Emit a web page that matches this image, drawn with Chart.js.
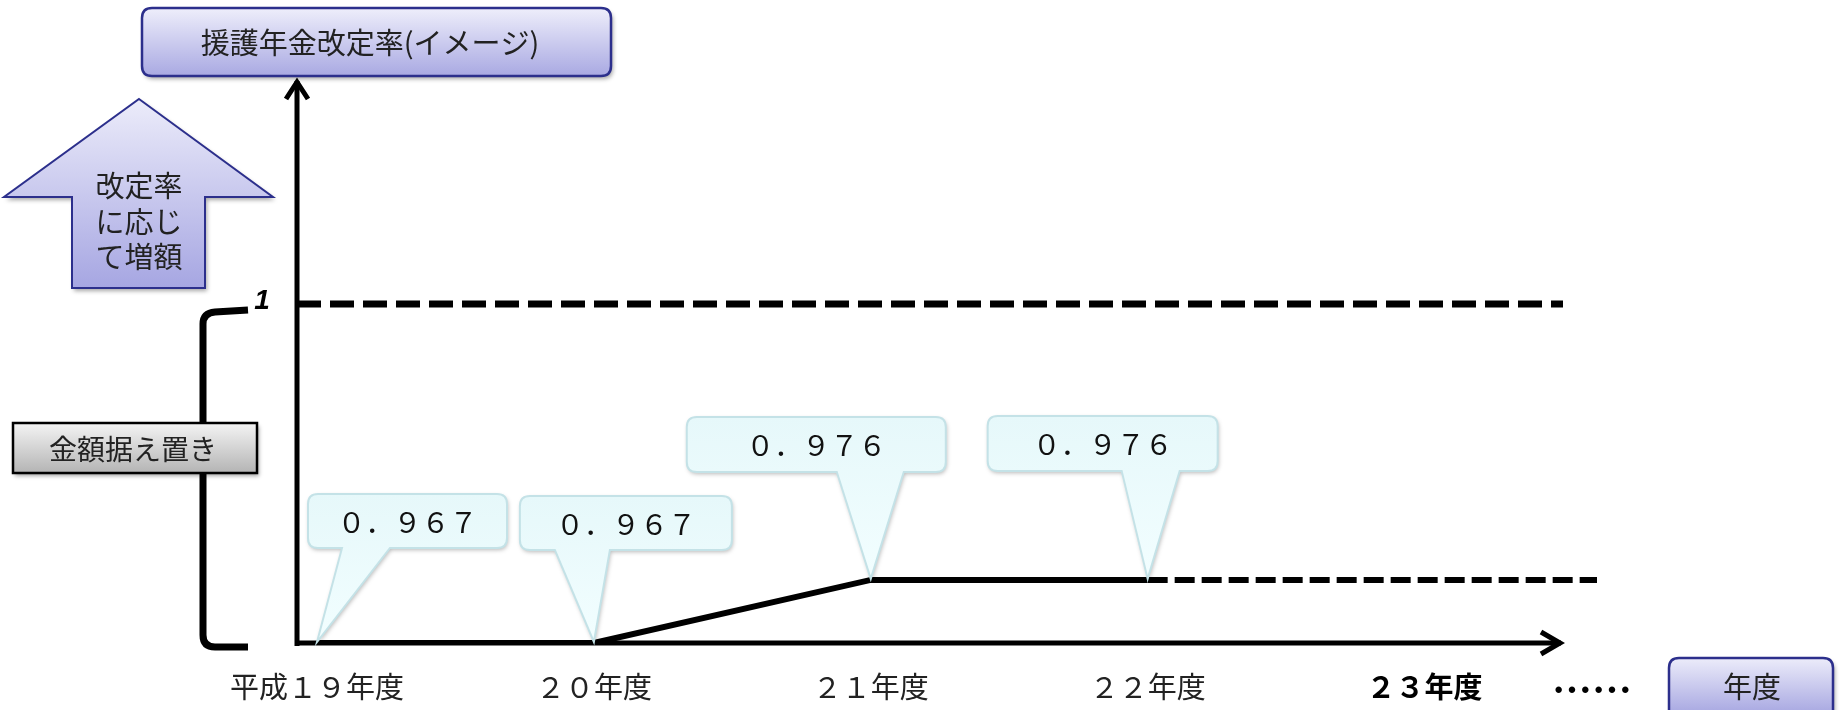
<!DOCTYPE html>
<html lang="ja">
<head>
<meta charset="utf-8">
<title>援護年金改定率(イメージ)</title>
<script src="https://cdn.jsdelivr.net/npm/chart.js@4.4.1/dist/chart.umd.min.js"></script>
<style>
  html, body { margin: 0; padding: 0; background: #fff; }
</style>
</head>
<body>
<canvas id="chart" width="1841" height="710"></canvas>
<script>
// values
const years = [19, 20, 21, 22, 23]
const yearLabels = ['平成１９年度', '２０年度', '２１年度', '２２年度', '２３年度']
const rateYears = [19, 20, 21, 22]
const rates = [0.967, 0.967, 0.976, 0.976]
const rateLabels = ['０．９６７', '０．９６７', '０．９７６', '０．９７６']
const baseRate = 1
const baseLabel = '1'

const titleText = '援護年金改定率(イメージ)'
const upArrowLines = ['改定率', 'に応じ', 'て増額']
const freezeText = '金額据え置き'
const xTitleText = '年度'
const moreText = '……'

// callout shapes, relative to the point they point at
const callouts = [
    { left: -9, width: 199, top: -149, height: 54, tail: [25, 73] },
    { left: -74, width: 212, top: -147, height: 54, tail: [-39, 16] },
    { left: -184, width: 259, top: -163, height: 55, tail: [-34, 33] },
    { left: -160, width: 230, top: -164, height: 55, tail: [-26, 32] },
]

const JP = '"Noto Sans CJK JP", sans-serif'
const NAVY = '#2c2f8c'

function roundRect(ctx, x, y, w, h, r) {
    ctx.beginPath()
    ctx.moveTo(x + r, y)
    ctx.lineTo(x + w - r, y)
    ctx.quadraticCurveTo(x + w, y, x + w, y + r)
    ctx.lineTo(x + w, y + h - r)
    ctx.quadraticCurveTo(x + w, y + h, x + w - r, y + h)
    ctx.lineTo(x + r, y + h)
    ctx.quadraticCurveTo(x, y + h, x, y + h - r)
    ctx.lineTo(x, y + r)
    ctx.quadraticCurveTo(x, y, x + r, y)
    ctx.closePath()
}

function vGrad(ctx, y0, y1, c0, c1) {
    const g = ctx.createLinearGradient(0, y0, 0, y1)
    g.addColorStop(0, c0)
    g.addColorStop(1, c1)
    return g
}

function shadow(ctx, on) {
    ctx.shadowColor = on ? 'rgba(0,0,0,0.35)' : 'transparent'
    ctx.shadowBlur = on ? 4 : 0
    ctx.shadowOffsetX = on ? 2 : 0
    ctx.shadowOffsetY = on ? 3 : 0
}

const decorations = {
    id: 'decorations',
    beforeDatasetsDraw(chart) {
        const { ctx, chartArea, scales } = chart
        const y1 = scales.y1
        const axisX = chartArea.left - 20
        const baseY = chartArea.bottom
        const refY = y1.getPixelForValue(baseRate)
        const axisEnd = chartArea.right - 2

        ctx.save()
        ctx.textAlign = 'center'
        ctx.textBaseline = 'middle'

        // title box
        shadow(ctx, true)
        roundRect(ctx, 142, 8, 469, 68, 10)
        ctx.fillStyle = vGrad(ctx, 8, 76, '#eeeefb', '#a9a9e2')
        ctx.fill()
        shadow(ctx, false)
        ctx.lineWidth = 2.5
        ctx.strokeStyle = NAVY
        ctx.stroke()
        ctx.fillStyle = '#222'
        ctx.font = '29px ' + JP
        ctx.fillText(titleText, 370, 43)

        // up arrow
        ctx.beginPath()
        ctx.moveTo(139, 99)
        ctx.lineTo(273, 197)
        ctx.lineTo(205, 197)
        ctx.lineTo(205, 288)
        ctx.lineTo(72, 288)
        ctx.lineTo(72, 197)
        ctx.lineTo(4, 197)
        ctx.closePath()
        shadow(ctx, true)
        ctx.fillStyle = vGrad(ctx, 99, 288, '#ececfa', '#a6a6e2')
        ctx.fill()
        shadow(ctx, false)
        ctx.lineWidth = 2
        ctx.strokeStyle = NAVY
        ctx.stroke()
        ctx.fillStyle = '#222'
        ctx.font = '29px ' + JP
        upArrowLines.forEach((t, i) => ctx.fillText(t, 139, 186 + i * 35.5))

        // bracket for the frozen range
        const bx = axisX - 94
        const bEnd = axisX - 49
        const bTop = refY + 8
        const bBot = baseY + 4
        ctx.lineWidth = 7
        ctx.strokeStyle = '#000'
        ctx.beginPath()
        ctx.moveTo(bEnd, bTop - 2)
        ctx.lineTo(bx + 12, bTop)
        ctx.quadraticCurveTo(bx, bTop + 1, bx, bTop + 12)
        ctx.lineTo(bx, bBot - 12)
        ctx.quadraticCurveTo(bx, bBot, bx + 12, bBot)
        ctx.lineTo(bEnd, bBot)
        ctx.stroke()

        // 金額据え置き box
        shadow(ctx, true)
        ctx.fillStyle = vGrad(ctx, 423, 473, '#f4f4f4', '#b4b4b4')
        ctx.fillRect(13, 423, 244, 50)
        shadow(ctx, false)
        ctx.lineWidth = 2.5
        ctx.strokeRect(13, 423, 244, 50)
        ctx.fillStyle = '#222'
        ctx.font = '28px ' + JP
        ctx.fillText(freezeText, 133, 449)

        // "1" tick
        ctx.fillStyle = '#000'
        ctx.font = 'italic bold 28px "Liberation Sans", sans-serif'
        ctx.fillText(baseLabel, axisX - 35, refY - 3)

        // reference line at 1
        ctx.lineWidth = 7
        ctx.setLineDash([24, 9])
        ctx.beginPath()
        ctx.moveTo(axisX, refY)
        ctx.lineTo(axisEnd + 2, refY)
        ctx.stroke()
        ctx.setLineDash([])

        // axes with arrow heads
        ctx.lineWidth = 5
        ctx.lineCap = 'butt'
        ctx.beginPath()
        ctx.moveTo(axisX, baseY + 3)
        ctx.lineTo(axisX, chartArea.top - 1)
        ctx.moveTo(axisX - 2, baseY)
        ctx.lineTo(axisEnd, baseY)
        ctx.stroke()
        ctx.lineJoin = 'miter'
        ctx.beginPath()
        ctx.moveTo(axisX - 11, chartArea.top + 17)
        ctx.lineTo(axisX, chartArea.top)
        ctx.lineTo(axisX + 11, chartArea.top + 17)
        ctx.moveTo(axisEnd - 20, baseY - 11)
        ctx.lineTo(axisEnd - 1, baseY)
        ctx.lineTo(axisEnd - 20, baseY + 11)
        ctx.stroke()

        ctx.restore()
    },
    afterDatasetsDraw(chart) {
        const { ctx, chartArea, scales } = chart
        const x = scales.x
        const y = scales.y
        const baseY = chartArea.bottom
        const axisEnd = chartArea.right - 2

        ctx.save()
        ctx.textAlign = 'center'
        ctx.textBaseline = 'middle'

        // dashed continuation after the last known year
        const last = rates.length - 1
        const lastX = x.getPixelForValue(rateYears[last])
        const lastY = y.getPixelForValue(rates[last])
        ctx.lineWidth = 6
        ctx.strokeStyle = '#000'
        ctx.setLineDash([20, 7])
        ctx.beginPath()
        ctx.moveTo(lastX, lastY)
        ctx.lineTo(axisEnd + 36, lastY)
        ctx.stroke()
        ctx.setLineDash([])

        // callouts
        const meta = chart.getDatasetMeta(0)
        meta.data.forEach((pt, i) => {
            const c = callouts[i]
            const px = pt.x
            const py = pt.y
            const l = px + c.left
            const r = l + c.width
            const t = py + c.top
            const b = t + c.height
            const rad = 10
            ctx.beginPath()
            ctx.moveTo(l + rad, t)
            ctx.lineTo(r - rad, t)
            ctx.quadraticCurveTo(r, t, r, t + rad)
            ctx.lineTo(r, b - rad)
            ctx.quadraticCurveTo(r, b, r - rad, b)
            ctx.lineTo(px + c.tail[1], b)
            ctx.lineTo(px, py - 1)
            ctx.lineTo(px + c.tail[0], b)
            ctx.lineTo(l + rad, b)
            ctx.quadraticCurveTo(l, b, l, b - rad)
            ctx.lineTo(l, t + rad)
            ctx.quadraticCurveTo(l, t, l + rad, t)
            ctx.closePath()
            ctx.shadowColor = 'rgba(0,0,0,0.28)'
            ctx.shadowBlur = 4
            ctx.shadowOffsetX = 1
            ctx.shadowOffsetY = 2
            ctx.fillStyle = vGrad(ctx, t, py, '#e6f8fa', '#f2feff')
            ctx.fill()
            shadow(ctx, false)
            ctx.lineWidth = 2
            ctx.strokeStyle = '#c4e2e7'
            ctx.stroke()
            ctx.fillStyle = '#111'
            ctx.font = '28px ' + JP
            ctx.fillText(rateLabels[i], (l + r) / 2, (t + b) / 2 + 1)
        })

        // year labels under the axis
        years.forEach((yr, i) => {
            const bold = i === years.length - 1
            ctx.font = (bold ? 'bold ' : '') + '29px ' + JP
            ctx.fillStyle = bold ? '#000' : '#222'
            ctx.fillText(yearLabels[i], x.getPixelForValue(yr), baseY + 44)
        })
        ctx.font = 'bold 40px ' + JP
        ctx.fillStyle = '#000'
        ctx.fillText(moreText, axisEnd + 31, baseY + 47)

        // 年度 box
        shadow(ctx, true)
        roundRect(ctx, 1669, 658, 164, 70, 10)
        ctx.fillStyle = vGrad(ctx, 658, 710, '#ececfa', '#acace3')
        ctx.fill()
        shadow(ctx, false)
        ctx.lineWidth = 2.5
        ctx.strokeStyle = NAVY
        ctx.stroke()
        ctx.fillStyle = '#222'
        ctx.font = '29px ' + JP
        ctx.fillText(xTitleText, 1752, 687)

        ctx.restore()
    },
}

new Chart(document.getElementById('chart').getContext('2d'), {
    type: 'line',
    data: {
        datasets: [
            {
                label: '改定率',
                data: rateYears.map((yr, i) => ({ x: yr, y: rates[i] })),
                yAxisID: 'y',
                borderColor: '#000',
                borderWidth: 6,
                pointRadius: 0,
                tension: 0,
                fill: false,
            },
        ],
    },
    options: {
        responsive: false,
        animation: false,
        events: [],
        layout: { padding: { left: 317, right: 278, top: 82, bottom: 67 } },
        plugins: {
            legend: { display: false },
            tooltip: { enabled: false },
        },
        scales: {
            x: { type: 'linear', display: false, min: 19, max: 23.5 },
            // picture scale: the two axes share the bottom line at 0.967
            y: { type: 'linear', display: false, min: 0.967, max: 1.047 },
            y1: { type: 'linear', display: false, min: 0.967, max: 1.0216 },
        },
    },
    plugins: [decorations],
})
</script>
</body>
</html>
